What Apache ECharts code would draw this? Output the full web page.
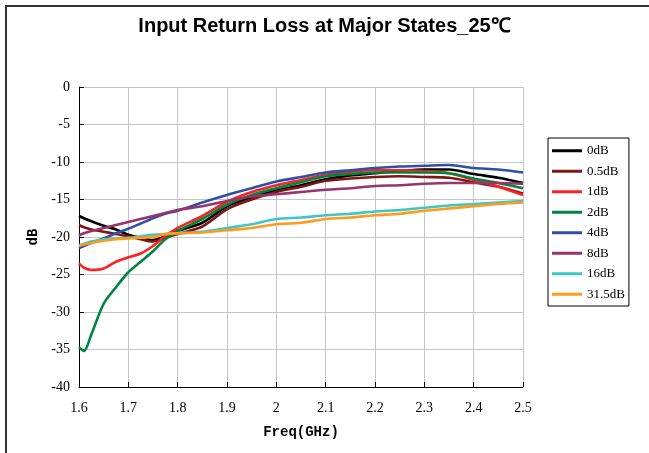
<!DOCTYPE html>
<html><head><meta charset="utf-8">
<script src="https://cdn.jsdelivr.net/npm/echarts@6/dist/echarts.min.js"></script>
<style>html,body{margin:0;padding:0;background:#fff}#c{width:649px;height:453px}</style>
</head><body><div id="c"></div>
<script>
const freq = [1.6, 1.61, 1.625, 1.65, 1.675, 1.7, 1.725, 1.75, 1.775, 1.8, 1.85, 1.9, 1.95, 2.0, 2.05, 2.1, 2.15, 2.2, 2.25, 2.3, 2.35, 2.4, 2.45, 2.5];
const s0dB   = [-17.2,-17.5,-17.9,-18.5,-19.0,-19.7,-20.1,-20.4,-19.9,-19.2,-18.1,-15.9,-14.7,-13.8,-13.1,-12.3,-11.8,-11.5,-11.2,-11.0,-11.0,-11.6,-12.1,-12.8];
const s05dB  = [-18.4,-18.7,-19.0,-19.3,-19.6,-19.9,-20.3,-20.6,-20.1,-19.6,-18.6,-16.3,-15.0,-14.0,-13.3,-12.5,-12.2,-12.0,-11.9,-12.0,-12.1,-12.7,-13.3,-14.2];
const s1dB   = [-23.5,-24.1,-24.4,-24.2,-23.3,-22.7,-22.2,-21.2,-19.9,-18.8,-17.2,-15.3,-14.0,-13.1,-12.4,-11.7,-11.3,-11.1,-11.1,-11.2,-11.5,-12.4,-13.3,-14.4];
const s2dB   = [-34.7,-35.2,-33.0,-28.9,-26.7,-24.7,-23.3,-21.9,-20.3,-19.2,-17.6,-15.7,-14.4,-13.5,-12.7,-11.9,-11.6,-11.4,-11.4,-11.4,-11.5,-12.2,-12.8,-13.5];
const s4dB   = [-21.5,-21.2,-20.8,-20.2,-19.5,-18.9,-18.2,-17.5,-16.9,-16.5,-15.4,-14.4,-13.5,-12.6,-12.0,-11.4,-11.1,-10.8,-10.6,-10.5,-10.4,-10.8,-11.0,-11.4];
const s8dB   = [-19.8,-19.5,-19.2,-18.8,-18.4,-18.0,-17.6,-17.2,-16.8,-16.4,-15.9,-15.2,-14.6,-14.3,-14.0,-13.7,-13.5,-13.2,-13.1,-12.9,-12.8,-12.8,-12.8,-12.9];
const s16dB  = [-21.1,-20.9,-20.6,-20.3,-20.2,-20.1,-19.9,-19.7,-19.6,-19.5,-19.3,-18.8,-18.3,-17.6,-17.4,-17.1,-16.9,-16.6,-16.4,-16.1,-15.8,-15.6,-15.4,-15.2];
const s315dB = [-21.2,-21.0,-20.8,-20.5,-20.3,-20.2,-20.1,-20.0,-19.6,-19.5,-19.4,-19.1,-18.8,-18.3,-18.1,-17.6,-17.4,-17.1,-16.9,-16.5,-16.2,-15.9,-15.6,-15.4];
const seriesNames = ['0dB','0.5dB','1dB','2dB','4dB','8dB','16dB','31.5dB'];
const seriesValues = [s0dB, s05dB, s1dB, s2dB, s4dB, s8dB, s16dB, s315dB];
const colors = ['#000000','#7f1616','#ff2020','#00853e','#2f4fa8','#99336b','#3cc6c6','#ff9a1a'];

const chart = echarts.init(document.getElementById('c'));
const font = '"Liberation Serif","DejaVu Serif",serif';
chart.setOption({
  animation: false,
  backgroundColor: '#fff',
  title: {
    text: 'Input Return Loss at Major States_25℃',
    left: 'center', top: 11,
    textStyle: {fontFamily: '"Liberation Sans",Arial,sans-serif', fontWeight: 'bold', fontSize: 20, color: '#000'}
  },
  graphic: [{type: 'rect', shape: {x: 6, y: 6, width: 720, height: 520}, style: {fill: 'none', stroke: '#333', lineWidth: 2}, silent: true}],
  grid: {left: 79, right: 126, top: 87, bottom: 66, containLabel: false},
  legend: {
    orient: 'vertical', left: 548, top: 138,
    data: seriesNames,
    icon: 'rect', itemWidth: 30, itemHeight: 3, itemGap: 7,
    borderColor: '#000', borderWidth: 1, padding: [6, 4, 5, 4],
    textStyle: {fontFamily: font, fontSize: 13, color: '#000', lineHeight: 13.5}
  },
  xAxis: {
    type: 'value', min: 1.6, max: 2.5, interval: 0.1,
    name: 'Freq(GHz)', nameLocation: 'middle', nameGap: 38,
    nameTextStyle: {fontFamily: '"Liberation Mono","DejaVu Sans Mono",monospace', fontWeight: 'bold', fontSize: 14, color: '#000'},
    axisLine: {show: true, onZero: false, lineStyle: {color: '#000', width: 1}},
    axisTick: {show: true, inside: true, length: 5, lineStyle: {color: '#000'}},
    axisLabel: {fontFamily: font, fontSize: 14, color: '#000', margin: 14,
      formatter: v => String(Number(v.toFixed(1)))},
    splitLine: {show: true, lineStyle: {color: '#c4c4c4', width: 1}}
  },
  yAxis: {
    type: 'value', min: -40, max: 0, interval: 5,
    name: 'dB', nameLocation: 'middle', nameGap: 39, nameRotate: 90,
    nameTextStyle: {fontFamily: '"Liberation Mono","DejaVu Sans Mono",monospace', fontWeight: 'bold', fontSize: 14, color: '#000'},
    axisLine: {show: true, lineStyle: {color: '#000', width: 1}},
    axisTick: {show: true, inside: true, length: 5, lineStyle: {color: '#000'}},
    axisLabel: {fontFamily: font, fontSize: 14, color: '#000', margin: 9},
    splitLine: {show: true, lineStyle: {color: '#c4c4c4', width: 1}}
  },
  series: seriesNames.map((n, i) => ({
    name: n, type: 'line', smooth: 0.3, symbol: 'none',
    lineStyle: {width: 2.6, color: colors[i]}, itemStyle: {color: colors[i]},
    data: freq.map((f, j) => [f, seriesValues[i][j]])
  }))
});
</script></body></html>
